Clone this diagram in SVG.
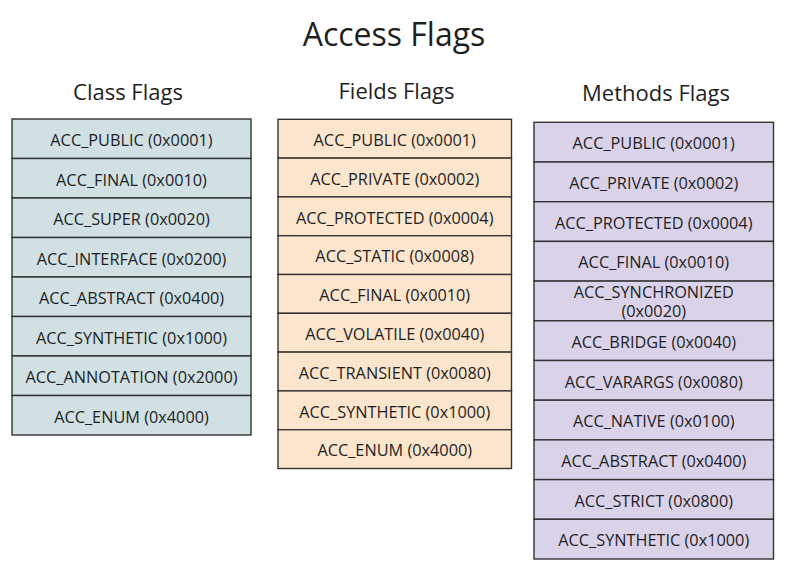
<svg xmlns="http://www.w3.org/2000/svg" width="799" height="568" viewBox="0 0 799 568">
<style>
text{font-family:"Open Sans","Noto Sans","DejaVu Sans",sans-serif;fill:#1f1f1f;text-anchor:middle}
.t{font-size:32px}
.h{font-size:22px}
.r{font-size:16.3px}
rect{stroke:#333;stroke-width:1.4}
.c rect{fill:#d0e0e3}
.f rect{fill:#fce5cd}
.m rect{fill:#d9d2e9}
</style>
<rect width="799" height="568" fill="#fff" style="stroke:none"/>
<text class="t" x="394" y="46">Access Flags</text>
<text class="h" x="128" y="100">Class Flags</text>
<text class="h" x="396.5" y="99">Fields Flags</text>
<text class="h" x="656" y="101">Methods Flags</text>

<g id="class-flags" class="c">
<g id="c1"><rect x="12" y="119" width="239" height="39.5"/><text class="r" x="131.5" y="146">ACC_PUBLIC (0x0001)</text></g>
<g id="c2"><rect x="12" y="158.5" width="239" height="39.5"/><text class="r" x="131.5" y="185.5">ACC_FINAL (0x0010)</text></g>
<g id="c3"><rect x="12" y="198" width="239" height="39.5"/><text class="r" x="131.5" y="225">ACC_SUPER (0x0020)</text></g>
<g id="c4"><rect x="12" y="237.5" width="239" height="39.5"/><text class="r" x="131.5" y="264.5">ACC_INTERFACE (0x0200)</text></g>
<g id="c5"><rect x="12" y="277" width="239" height="39.5"/><text class="r" x="131.5" y="304">ACC_ABSTRACT (0x0400)</text></g>
<g id="c6"><rect x="12" y="316.5" width="239" height="39.5"/><text class="r" x="131.5" y="343.5">ACC_SYNTHETIC (0x1000)</text></g>
<g id="c7"><rect x="12" y="356" width="239" height="39.5"/><text class="r" x="131.5" y="383">ACC_ANNOTATION (0x2000)</text></g>
<g id="c8"><rect x="12" y="395.5" width="239" height="39.5"/><text class="r" x="131.5" y="422.5">ACC_ENUM (0x4000)</text></g>
</g>

<g id="fields-flags" class="f">
<g id="f1"><rect x="278" y="119.3" width="233.5" height="38.8"/><text class="r" x="394.75" y="146">ACC_PUBLIC (0x0001)</text></g>
<g id="f2"><rect x="278" y="158.1" width="233.5" height="38.8"/><text class="r" x="394.75" y="184.8">ACC_PRIVATE (0x0002)</text></g>
<g id="f3"><rect x="278" y="196.9" width="233.5" height="38.8"/><text class="r" x="394.75" y="223.6">ACC_PROTECTED (0x0004)</text></g>
<g id="f4"><rect x="278" y="235.7" width="233.5" height="38.8"/><text class="r" x="394.75" y="262.4">ACC_STATIC (0x0008)</text></g>
<g id="f5"><rect x="278" y="274.5" width="233.5" height="38.8"/><text class="r" x="394.75" y="301.2">ACC_FINAL (0x0010)</text></g>
<g id="f6"><rect x="278" y="313.3" width="233.5" height="38.8"/><text class="r" x="394.75" y="340">ACC_VOLATILE (0x0040)</text></g>
<g id="f7"><rect x="278" y="352.1" width="233.5" height="38.8"/><text class="r" x="394.75" y="378.8">ACC_TRANSIENT (0x0080)</text></g>
<g id="f8"><rect x="278" y="390.9" width="233.5" height="38.8"/><text class="r" x="394.75" y="417.6">ACC_SYNTHETIC (0x1000)</text></g>
<g id="f9"><rect x="278" y="429.7" width="233.5" height="38.8"/><text class="r" x="394.75" y="456.4">ACC_ENUM (0x4000)</text></g>
</g>

<g id="methods-flags" class="m">
<g id="m1"><rect x="534" y="122.3" width="239.5" height="39.7"/><text class="r" x="653.75" y="149.3">ACC_PUBLIC (0x0001)</text></g>
<g id="m2"><rect x="534" y="162" width="239.5" height="39.7"/><text class="r" x="653.75" y="189">ACC_PRIVATE (0x0002)</text></g>
<g id="m3"><rect x="534" y="201.7" width="239.5" height="39.7"/><text class="r" x="653.75" y="228.7">ACC_PROTECTED (0x0004)</text></g>
<g id="m4"><rect x="534" y="241.4" width="239.5" height="39.7"/><text class="r" x="653.75" y="268.4">ACC_FINAL (0x0010)</text></g>
<g id="m5"><rect x="534" y="281.1" width="239.5" height="39.7"/><text class="r" x="653.75" y="297.5">ACC_SYNCHRONIZED</text><text class="r" x="653.75" y="317">(0x0020)</text></g>
<g id="m6"><rect x="534" y="320.8" width="239.5" height="39.7"/><text class="r" x="653.75" y="347.8">ACC_BRIDGE (0x0040)</text></g>
<g id="m7"><rect x="534" y="360.5" width="239.5" height="39.7"/><text class="r" x="653.75" y="387.5">ACC_VARARGS (0x0080)</text></g>
<g id="m8"><rect x="534" y="400.2" width="239.5" height="39.7"/><text class="r" x="653.75" y="427.2">ACC_NATIVE (0x0100)</text></g>
<g id="m9"><rect x="534" y="439.9" width="239.5" height="39.7"/><text class="r" x="653.75" y="466.9">ACC_ABSTRACT (0x0400)</text></g>
<g id="m10"><rect x="534" y="479.6" width="239.5" height="39.7"/><text class="r" x="653.75" y="506.6">ACC_STRICT (0x0800)</text></g>
<g id="m11"><rect x="534" y="519.3" width="239.5" height="39.7"/><text class="r" x="653.75" y="546.3">ACC_SYNTHETIC (0x1000)</text></g>
</g>
<g id="connectors"/>
</svg>
